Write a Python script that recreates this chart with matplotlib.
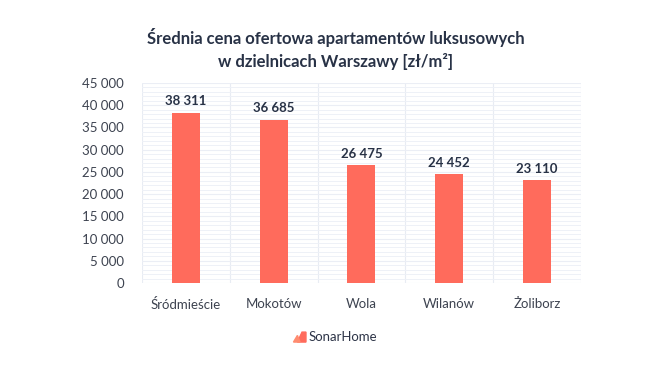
import matplotlib.pyplot as plt
from matplotlib.patches import Polygon
from matplotlib.ticker import MultipleLocator, FuncFormatter

# dane
districts = ["Śródmieście", "Mokotów", "Wola", "Wilanów", "Żoliborz"]
prices = [38311, 36685, 26475, 24452, 23110]

bar_color = "#FF6B5C"
dark = "#283246"
gray = "#3D4350"

plt.rcParams["font.family"] = ["Lato", "DejaVu Sans"]

fig = plt.figure(figsize=(6.58, 3.69), dpi=100)
ax = fig.add_axes([0.2158, 0.233, 0.667, 0.542])

x = range(len(districts))
ax.bar(x, prices, width=0.32, color=bar_color, zorder=3)

ax.set_xlim(-0.5, len(districts) - 0.5)
ax.set_ylim(0, 45000)

# siatka
ax.yaxis.set_major_locator(MultipleLocator(5000))
ax.yaxis.set_minor_locator(MultipleLocator(1000))
ax.set_xticks([i + 0.5 for i in range(-1, len(districts))], minor=True)
ax.grid(which="minor", axis="y", color="#EEF1F7", linewidth=0.7, zorder=0)
ax.grid(which="major", axis="y", color="#EBEEF5", linewidth=0.8, zorder=0)
ax.grid(which="minor", axis="x", color="#E8ECF3", linewidth=0.8, zorder=0)

for s in ax.spines.values():
    s.set_visible(False)

ax.set_xticks(list(x))
ax.set_xticklabels(districts)
ax.yaxis.set_major_formatter(FuncFormatter(lambda v, p: f"{int(v):,}".replace(",", " ")))
ax.tick_params(axis="both", which="both", length=0, labelsize=9.5, colors=gray)
ax.tick_params(axis="x", pad=11)
ax.tick_params(axis="y", pad=13)

# wartości nad słupkami
for i, v in enumerate(prices):
    ax.annotate(f"{v:,}".replace(",", " "), (i, v), xytext=(0, 4), textcoords="offset points",
                ha="center", va="bottom", fontsize=9.5, fontweight="bold", color=dark)

fig.text(0.51, 0.867, "Średnia cena ofertowa apartamentów luksusowych\nw dzielnicach Warszawy [zł/m²]",
         ha="center", va="center", fontsize=12, fontweight="bold", color=dark, linespacing=1.4)

# logo
fig.patches.append(Polygon([[0.452, 0.073], [0.459, 0.100], [0.465, 0.100], [0.465, 0.073]],
                           closed=True, transform=fig.transFigure, color=bar_color))
fig.patches.append(Polygon([[0.446, 0.073], [0.452, 0.091], [0.456, 0.073]],
                           closed=True, transform=fig.transFigure, color="#FF8C70"))
fig.text(0.469, 0.087, "SonarHome", ha="left", va="center", fontsize=9.5, color="#2E3548")

fig.savefig("out.png", dpi=100)
